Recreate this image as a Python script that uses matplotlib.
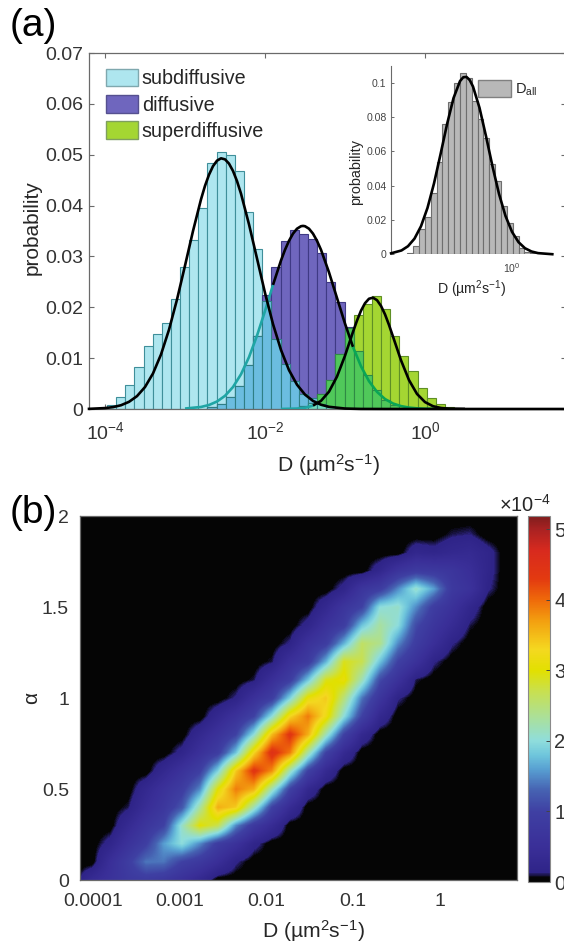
import numpy as np
import matplotlib
matplotlib.use("Agg")
import matplotlib.pyplot as plt
from matplotlib.colors import LinearSegmentedColormap, Normalize
from matplotlib.patches import Patch
from matplotlib.ticker import NullLocator, FixedLocator

plt.rcParams['font.family'] = ['Liberation Sans', 'DejaVu Sans']
plt.rcParams['mathtext.default'] = 'regular'
plt.rcParams['text.color'] = '#262626'
plt.rcParams['axes.labelcolor'] = '#262626'

W, H = 564, 947

# ---------- panel (a) histogram data ----------
bin_first = -3.975
bin_width = 0.1142
subdiffusive = [.0008, .0023, .0047, .0082, .0124, .0148, .0169, .0217, .0279, .0333, .0395, .0483, .0506,
                .0500, .0467, .0388, .0315, .0213, .0138, .0088, .0056, .0030, .0021, .0009, .0004]
diffusive = [0, 0, 0, 0, 0, 0, 0, 0, 0, 0, 0, .0004, .0010, .0023, .0045, .0086, .0144, .0224, .0280, .0330,
             .0351, .0345, .0334, .0307, .0249, .0210, .0162, .0114, .0067, .0038, .0018, .0008, .0002]
superdiffusive = [0, 0, 0, 0, 0, 0, 0, 0, 0, 0, 0, 0, 0, 0, 0, 0, 0, 0, 0, 0, 0, .0005, .0012, .0030, .0058,
                  .0109, .0160, .0184, .0206, .0223, .0197, .0144, .0104, .0075, .0042, .0021, .0010, .0004]

sub_fit_x = [-4.2, -4.0, -3.9, -3.8, -3.7, -3.6, -3.5, -3.4, -3.3, -3.2, -3.1, -3.0, -2.9, -2.8, -2.75, -2.7, -2.65,
             -2.6, -2.55, -2.5, -2.45, -2.4, -2.35, -2.3, -2.2, -2.1, -2.0, -1.9, -1.8, -1.7, -1.6, -1.5, -1.4, -1.3,
             -1.2, -1.0, -0.8, -0.5, 1.77]
sub_fit_y = [.00003, .00018, .00037, .00074, .00141, .00253, .00432, .00699, .01072, .01559, .02152, .02819, .03499,
             .04122, .04388, .04607, .04775, .04883, .04929, .04909, .04825, .04681, .04482, .04234, .03631, .0296,
             .02283, .0167, .0116, .00764, .00478, .00283, .00159, .00084, .00043, .00009, .00001, 0, 0]
dif_fit_x = [-3.0, -2.8, -2.7, -2.6, -2.5, -2.4, -2.3, -2.2, -2.1, -2.0, -1.9, -1.8, -1.75, -1.7, -1.65, -1.6, -1.55,
             -1.525, -1.5, -1.45, -1.4, -1.35, -1.3, -1.2, -1.1, -1.0, -0.9, -0.8, -0.7, -0.6, -0.5, -0.4, -0.3, -0.2,
             -0.1, 0.0, 0.2]
dif_fit_y = [.00009, .0004, .00079, .00147, .00259, .00432, .00683, .0102, .01442, .01927, .0244, .02921, .0313,
             .03307, .03448, .03545, .03594, .036, .03594, .03545, .03448, .03307, .0313, .02687, .02183, .01679,
             .0122, .0084, .00547, .00337, .00196, .00108, .00057, .00028, .00013, .00006, .00001]
sup_fit_x = [-1.8, -1.6, -1.5, -1.4, -1.3, -1.2, -1.1, -1.0, -0.9, -0.85, -0.8, -0.75, -0.7, -0.65, -0.6, -0.55, -0.5,
             -0.45, -0.4, -0.3, -0.2, -0.1, 0.0, 0.1, 0.2, 0.3, 0.5]
sup_fit_y = [.00001, .00008, .00024, .00067, .0016, .00341, .00638, .01048, .01517, .01739, .01933, .0208, .02168,
             .02189, .0214, .02027, .01861, .01653, .01423, .00958, .00568, .00296, .00136, .00055, .0002, .00006,
             .00001]

# ---------- inset data ----------
all_first = -0.805
all_width = 0.045
d_all = [.0005, .0050, .0146, .0220, .0355, .0540, .0757, .0885, .0996, .1054, .1025, .0893, .0786, .0680,
         .0526, .0427, .0283, .0182, .0109, .0035, .0016, .0006]
all_fit_x = [-.93, -.85, -.80, -.75, -.70, -.65, -.60, -.55, -.50, -.45, -.40, -.375, -.35, -.325, -.30, -.25, -.20,
             -.15, -.10, -.05, 0, .05, .10, .15, .20, .31]
all_fit_y = [.00058, .00224, .00471, .00913, .01635, .02704, .04127, .05818, .07568, .09096, .10089, .10313, .10334,
             .10149, .09772, .08534, .06881, .05122, .0352, .02233, .01308, .00708, .00353, .00163, .00069, .00005]

# ---------- panel (b) density, units of 1e-4 (rows: alpha, columns: log10 D) ----------
alpha_nodes = np.arange(0, 2.01, 0.1)
logd_nodes = np.linspace(-4.22, 0.97, 26)
density = [
 [0, .4, .6, .8, .85, .75, .55, .3, 0, 0, 0, 0, 0, 0, 0, 0, 0, 0, 0, 0, 0, 0, 0, 0, 0, 0],
 [0, 0, .5, .9, 1.4, 1.4, 1.0, .8, .5, .15, 0, 0, 0, 0, 0, 0, 0, 0, 0, 0, 0, 0, 0, 0, 0, 0],
 [0, 0, .2, .6, .95, 1.6, 2.0, 1.5, .9, .6, .2, 0, 0, 0, 0, 0, 0, 0, 0, 0, 0, 0, 0, 0, 0, 0],
 [0, 0, 0, .35, .7, 1.0, 2.1, 3.0, 2.7, 1.5, .8, .4, 0, 0, 0, 0, 0, 0, 0, 0, 0, 0, 0, 0, 0, 0],
 [0, 0, 0, .1, .45, .75, 1.2, 2.3, 3.6, 3.4, 2.2, 1.0, .4, 0, 0, 0, 0, 0, 0, 0, 0, 0, 0, 0, 0, 0],
 [0, 0, 0, 0, .3, .6, .9, 1.5, 3.0, 3.9, 3.6, 2.2, 1.0, .3, 0, 0, 0, 0, 0, 0, 0, 0, 0, 0, 0, 0],
 [0, 0, 0, 0, 0, .3, .6, .95, 1.9, 3.4, 4.4, 3.8, 2.2, 1.0, .35, 0, 0, 0, 0, 0, 0, 0, 0, 0, 0, 0],
 [0, 0, 0, 0, 0, 0, .2, .55, .9, 1.8, 3.3, 4.5, 3.9, 2.3, 1.0, .35, 0, 0, 0, 0, 0, 0, 0, 0, 0, 0],
 [0, 0, 0, 0, 0, 0, 0, .3, .6, 1.0, 2.0, 3.5, 4.4, 3.6, 2.2, 1.0, .3, 0, 0, 0, 0, 0, 0, 0, 0, 0],
 [0, 0, 0, 0, 0, 0, 0, 0, .3, .6, 1.0, 2.0, 3.3, 3.9, 3.2, 2.0, 1.0, .3, 0, 0, 0, 0, 0, 0, 0, 0],
 [0, 0, 0, 0, 0, 0, 0, 0, 0, .15, .55, .9, 1.9, 3.1, 3.4, 2.5, 1.4, .7, .15, 0, 0, 0, 0, 0, 0, 0],
 [0, 0, 0, 0, 0, 0, 0, 0, 0, 0, .1, .5, .9, 1.8, 2.9, 3.1, 2.2, 1.1, .6, .1, 0, 0, 0, 0, 0, 0],
 [0, 0, 0, 0, 0, 0, 0, 0, 0, 0, 0, .1, .55, .85, 1.7, 2.9, 2.7, 1.8, 1.0, .6, .15, 0, 0, 0, 0, 0],
 [0, 0, 0, 0, 0, 0, 0, 0, 0, 0, 0, 0, .15, .6, .9, 1.7, 2.6, 2.4, 1.5, .9, .5, .15, 0, 0, 0, 0],
 [0, 0, 0, 0, 0, 0, 0, 0, 0, 0, 0, 0, 0, .2, .6, .9, 1.8, 2.3, 2.0, 1.1, .7, .4, .1, 0, 0, 0],
 [0, 0, 0, 0, 0, 0, 0, 0, 0, 0, 0, 0, 0, 0, .3, .7, 1.0, 2.0, 2.1, 1.5, .9, .6, .25, 0, 0, 0],
 [0, 0, 0, 0, 0, 0, 0, 0, 0, 0, 0, 0, 0, 0, 0, .2, .7, .9, 1.5, 2.1, 1.6, .8, .6, .15, 0, 0],
 [0, 0, 0, 0, 0, 0, 0, 0, 0, 0, 0, 0, 0, 0, 0, 0, 0, .25, .65, .85, .8, .7, .5, .2, 0, 0],
 [0, 0, 0, 0, 0, 0, 0, 0, 0, 0, 0, 0, 0, 0, 0, 0, 0, 0, 0, .25, .2, .3, .35, .2, 0, 0],
 [0, 0, 0, 0, 0, 0, 0, 0, 0, 0, 0, 0, 0, 0, 0, 0, 0, 0, 0, 0, 0, .1, .13, 0, 0, 0],
 [0, 0, 0, 0, 0, 0, 0, 0, 0, 0, 0, 0, 0, 0, 0, 0, 0, 0, 0, 0, 0, 0, 0, 0, 0, 0],
]
cbar_top = 5.19
d_ticks = [-4, -3, -2, -1, 0]
d_labels = ['0.0001', '0.001', '0.01', '0.1', '1']
a_ticks = [0, 0.5, 1, 1.5, 2]
a_labels = ['0', '0.5', '1', '1.5', '2']

# ---------- styling ----------
C_SUB, C_DIF, C_SUP = '#AEE6EF', '#6F66BE', '#A4D632'
C_SD, C_DS, C_SS = '#6BBDE0', '#50C85A', '#70DDC0'
E_SUB, E_DIF, E_SUP, E_OV = '#3F8F9A', '#3F3A85', '#5F8F25', '#2F7F85'
SPINE = '#6A6A6A'
FS = 14


def rect(l, t, r, b):
    return [l / W, 1 - b / H, (r - l) / W, (b - t) / H]


def label(x, y, s, **kw):
    kw.setdefault('ha', 'center')
    kw.setdefault('va', 'center')
    fig.text(x / W, 1 - y / H, s, **kw)


fig = plt.figure(figsize=(W / 100, H / 100), dpi=100)

# ---------- (a) main ----------
ax = fig.add_axes(rect(89, 53, 566, 409))
ax.set_xscale('log')


def bars(a, first, width, heights, **kw):
    h = np.asarray(heights, float)
    left = first + width * np.arange(len(h))
    a.bar(10.0 ** left, h, width=10.0 ** (left + width) - 10.0 ** left, align='edge', **kw)


n = 40
pad = lambda v: np.pad(np.asarray(v, float), (0, n - len(v)))
s_, d_, u_ = pad(subdiffusive), pad(diffusive), pad(superdiffusive)
kw = dict(linewidth=0.8)
bars(ax, bin_first, bin_width, np.where(s_ > 0, s_, np.nan), color=C_SUB, edgecolor=E_SUB, zorder=2, **kw)
bars(ax, bin_first, bin_width, np.where(d_ > 0, d_, np.nan), color=C_DIF, edgecolor=E_DIF, zorder=2.1, **kw)
bars(ax, bin_first, bin_width, np.where(u_ > 0, u_, np.nan), color=C_SUP, edgecolor=E_SUP, zorder=2.2, **kw)
sd = np.minimum(s_, d_)
du = np.minimum(d_, u_)
su = np.minimum(s_, u_)
bars(ax, bin_first, bin_width, np.where(sd > 0, sd, np.nan), color=C_SD, edgecolor=E_OV, zorder=2.3, **kw)
bars(ax, bin_first, bin_width, np.where(du > 0, du, np.nan), color=C_DS, edgecolor='#2F8A45', zorder=2.4, **kw)
bars(ax, bin_first, bin_width, np.where(su > 0, su, np.nan), color=C_SS, edgecolor=E_OV, zorder=2.5, **kw)

LW = 1.9
dx, dy = np.array(dif_fit_x), np.array(dif_fit_y)
ux, uy = np.array(sup_fit_x), np.array(sup_fit_y)
sx, sy = np.array(sub_fit_x), np.array(sub_fit_y)
for m, c in ((dx <= -1.9, '#1FA5A5'), ((dx >= -1.9) & (dx <= -0.9), 'black'), (dx >= -0.9, '#0AA556')):
    ax.plot(10.0 ** dx[m], dy[m], color=c, lw=LW, zorder=3, solid_capstyle='butt', solid_joinstyle='round')
for m, c in ((ux <= -1.4, '#1FA5A5'), (ux >= -1.4, 'black')):
    ax.plot(10.0 ** ux[m], uy[m], color=c, lw=LW, zorder=3.1, solid_capstyle='butt', solid_joinstyle='round')
ax.plot(10.0 ** sx, sy, color='black', lw=LW, zorder=3.2, clip_on=False, solid_joinstyle='round')

ax.set_xlim(10 ** -4.2, 10 ** 1.7625)
ax.set_ylim(0, 0.07)
ax.set_yticks(np.arange(0, 0.071, 0.01))
ax.set_yticklabels(['0', '0.01', '0.02', '0.03', '0.04', '0.05', '0.06', '0.07'])
ax.xaxis.set_major_locator(FixedLocator([1e-4, 1e-2, 1]))
ax.set_xticklabels(['10$^{-4}$', '10$^{-2}$', '10$^{0}$'])
ax.xaxis.set_minor_locator(NullLocator())
ax.tick_params(direction='in', top=True, right=True, length=3.5, width=0.8, color=SPINE,
               labelsize=FS, labelcolor='#333333', pad=4)
ax.tick_params(axis='x', pad=9)
for sp in ax.spines.values():
    sp.set_color(SPINE)
    sp.set_linewidth(0.9)
ax.patch.set_alpha(0)

leg = ax.legend(handles=[Patch(facecolor=C_SUB, edgecolor='#7FA8AE', label='subdiffusive'),
                         Patch(facecolor=C_DIF, edgecolor='#55508F', label='diffusive'),
                         Patch(facecolor=C_SUP, edgecolor='#7F9F5F', label='superdiffusive')],
                loc='upper left', bbox_to_anchor=(106 / W, 1 - 69 / H), bbox_transform=fig.transFigure,
                frameon=False, fontsize=14.2, borderpad=0, borderaxespad=0, handlelength=1.62,
                handleheight=0.98, labelspacing=0.34, handletextpad=0.2)

label(10, 26, '(a)', ha='left', fontsize=28, color='black')
label(32, 228, 'probability', rotation=90, fontsize=15)
label(328, 465, 'D (µm$^{2}$s$^{-1}$)', fontsize=15.2)

# ---------- inset ----------
ins = fig.add_axes(rect(390.7, 66, 552.7, 254.3))
ins.set_xscale('log')
bars(ins, all_first, all_width, d_all, color='#B8B8B8', edgecolor='#6E6E6E', linewidth=0.8, zorder=2)
ins.plot(10.0 ** np.array(all_fit_x), all_fit_y, color='black', lw=LW, zorder=3, clip_on=False,
         solid_joinstyle='round')
ins.set_xlim(10 ** -0.933, 10 ** 0.313)
ins.set_ylim(0, 0.1097)
ins.set_yticks([0, .02, .04, .06, .08, .1])
ins.set_yticklabels(['0', '0.02', '0.04', '0.06', '0.08', '0.1'])
ins.xaxis.set_major_locator(FixedLocator([1]))
ins.set_xticklabels(['10$^{0}$'])
ins.xaxis.set_minor_locator(NullLocator())
ins.tick_params(direction='in', length=2.5, width=0.7, color=SPINE, labelsize=7.6, labelcolor='#444444', pad=3)
ins.tick_params(axis='x', length=0, pad=5)
for k in ('top', 'right', 'bottom'):
    ins.spines[k].set_visible(False)
ins.spines['left'].set_color(SPINE)
ins.patch.set_alpha(0)
ins.legend(handles=[Patch(facecolor='#B8B8B8', edgecolor='#808080', label='D$_{all}$')],
           loc='upper left', bbox_to_anchor=(478 / W, 1 - 80.5 / H), bbox_transform=fig.transFigure,
           frameon=False, fontsize=10.5, borderpad=0, borderaxespad=0, handlelength=2.26,
           handleheight=1.35, handletextpad=0.3)
label(356, 172, 'probability', rotation=90, fontsize=10.4)
label(472, 289, 'D (µm$^{2}$s$^{-1}$)', fontsize=10.2)

# ---------- (b) heat map ----------
stops = [(0, '#050505'), (.06, '#050505'), (.13, '#2F2488'), (.5, '#3A2F98'), (1.0, '#3F40A3'), (1.3, '#4662B2'),
         (1.6, '#58A0D2'), (1.8, '#6FC6DC'), (2.0, '#8FDDDC'), (2.3, '#A8E0A0'), (2.7, '#C8E050'), (3.0, '#E2E000'),
         (3.3, '#F4D820'), (3.7, '#F3A010'), (4.0, '#EF6A0A'), (4.3, '#E33A10'), (4.7, '#D82A1E'), (5.0, '#AA2222'),
         (cbar_top, '#7F1D1D')]
cmap = LinearSegmentedColormap.from_list('dens', [(v / cbar_top, c) for v, c in stops], N=512)
norm = Normalize(0, cbar_top)

bx = fig.add_axes(rect(80, 516, 517, 880))
step_x = logd_nodes[1] - logd_nodes[0]
step_y = alpha_nodes[1] - alpha_nodes[0]
bx.imshow(np.array(density), origin='lower', aspect='auto', cmap=cmap, norm=norm,
          interpolation='bilinear', interpolation_stage='data',
          extent=[logd_nodes[0] - step_x / 2, logd_nodes[-1] + step_x / 2,
                  alpha_nodes[0] - step_y / 2, alpha_nodes[-1] + step_y / 2])
bx.set_facecolor('#0A0A0A')
bx.set_xlim(-4.15, 0.888)
bx.set_ylim(0, 2)
bx.set_xticks(d_ticks)
bx.set_xticklabels(d_labels)
bx.set_yticks(a_ticks)
bx.set_yticklabels(a_labels)
bx.tick_params(direction='in', length=0, labelsize=FS, labelcolor='#333333', pad=8)
bx.tick_params(axis='x', pad=9)
for sp in bx.spines.values():
    sp.set_color(SPINE)
    sp.set_linewidth(0.9)

cax = fig.add_axes(rect(528, 516, 550, 882))
cb = fig.colorbar(plt.cm.ScalarMappable(norm=norm, cmap=cmap), cax=cax)
cb.set_ticks([0, 1, 2, 3, 4, 5])
cb.ax.set_yticklabels(['0', '1', '2', '3', '4', '5'])
cb.ax.tick_params(direction='in', right=True, length=3, width=0.7, color='#444444', labelsize=FS + 0.6,
                  labelcolor='#333333', pad=3)
cb.outline.set_edgecolor('#8A8A8A')
cb.outline.set_linewidth(0.8)

label(10, 513, '(b)', ha='left', fontsize=28, color='black')
label(32, 698, 'α', rotation=90, fontsize=15)
label(313, 931, 'D (µm$^{2}$s$^{-1}$)', fontsize=15.2)
label(551, 505, '×10$^{-4}$', ha='right', fontsize=14.4)

fig.savefig('out.png', dpi=100)
